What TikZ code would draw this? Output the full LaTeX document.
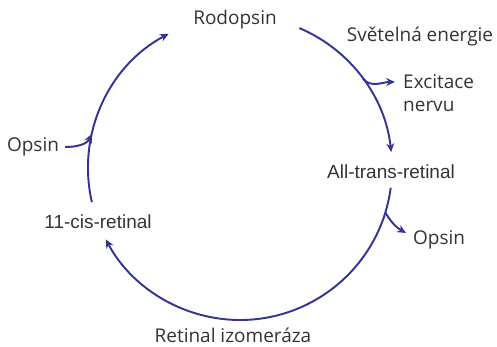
\documentclass[tikz,border=0pt]{standalone}
\usepackage{fontspec}
\setmainfont{Open Sans}
\newfontfamily\arialfont{Liberation Sans}
\usetikzlibrary{arrows.meta,calc}
\definecolor{cycblue}{RGB}{52,52,150}
\definecolor{txtgray}{RGB}{51,51,51}
\tikzset{
  lbl/.style={text=txtgray,font=\fontsize{10.8}{13}\selectfont},
  lblA/.style={text=txtgray,font=\arialfont\fontsize{10.8}{13}\selectfont},
  cycline/.style={draw=cycblue,line width=1.1pt,-{Stealth[length=5pt,width=4.5pt]}}
}
\begin{document}
\begin{tikzpicture}[x=0.02cm,y=0.02cm]
  \useasboundingbox (0,0) rectangle (497,347);
  \coordinate (c) at (240,179);
  % points on the cycle
  \foreach \n/\a in {p1/67,p2/6,p3/-7.5,p4/193,e1/36,o1/167,o2/-17}
    \coordinate (\n) at ($(c)+(\a:152)$);
  \node[lbl] (rod) at (235,327) {Rodopsin};
  \node[lbl] (light) at (420,310) {Světelná energie};
  \node[lbl,anchor=west,align=left] (exc) at (397,254) {Excitace\\nervu};
  \node[lblA] (trans) at (391,175) {All-trans-retinal};
  \node[lbl,anchor=west] (opsR) at (407,107) {Opsin};
  \node[lblA] (cis) at (98,125) {11-cis-retinal};
  \node[lbl] (opsL) at (33,200) {Opsin};
  \node[lbl] (izo) at (233,12) {Retinal izomeráza};
  \coordinate (excin) at (395,265);
  \coordinate (opsin) at (406,114);
  % the cycle
  \draw[cycline] (p1) arc[start angle=67,end angle=6,radius=152];
  \draw[cycline] (p3) arc[start angle=-7.5,end angle=-152,radius=152];
  \draw[cycline] (p4) arc[start angle=193,end angle=118,radius=152];
  % side branches
  \draw[cycline] (e1) to[out=-50,in=180] (excin);
  \draw[cycline] (opsL.east) to[out=0,in=-115] (o1);
  \draw[cycline] (o2) to[out=-60,in=150] (opsin);
\end{tikzpicture}
\end{document}
